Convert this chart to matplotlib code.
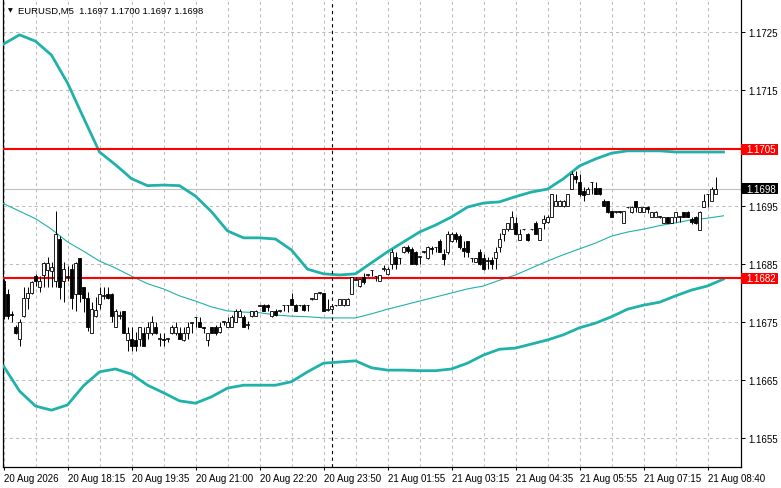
import matplotlib
matplotlib.use("Agg")
import matplotlib.pyplot as plt
from matplotlib.patches import Rectangle
from matplotlib.transforms import blended_transform_factory

# EURUSD M5 bars (oldest first)
opens = [
    1.16821, 1.16798, 1.16763, 1.16741, 1.16721, 1.16760, 1.16791, 1.16800, 1.16829, 1.16810,
    1.16831, 1.16839, 1.16838, 1.16821, 1.16893, 1.16821, 1.16828, 1.16841, 1.16798, 1.16860,
    1.16810, 1.16791, 1.16731, 1.16760, 1.16781, 1.16795, 1.16798, 1.16798, 1.16741, 1.16760,
    1.16769, 1.16719, 1.16721, 1.16719, 1.16721, 1.16731, 1.16731, 1.16731, 1.16741, 1.16721,
    1.16721, 1.16721, 1.16731, 1.16731, 1.16731, 1.16719, 1.16731, 1.16748, 1.16758, 1.16750,
    1.16741, 1.16719, 1.16741, 1.16741, 1.16733, 1.16750, 1.16741, 1.16741, 1.16750, 1.16758,
    1.16758, 1.16745, 1.16760, 1.16760, 1.16778, 1.16779, 1.16779, 1.16760, 1.16769, 1.16769,
    1.16779, 1.16780, 1.16790, 1.16779, 1.16779, 1.16779, 1.16779, 1.16790, 1.16790, 1.16800,
    1.16800, 1.16770, 1.16772, 1.16779, 1.16779, 1.16779, 1.16780, 1.16798, 1.16822, 1.16812,
    1.16827, 1.16831, 1.16839, 1.16829, 1.16821, 1.16841, 1.16833, 1.16850, 1.16862, 1.16860,
    1.16871, 1.16879, 1.16876, 1.16871, 1.16862, 1.16871, 1.16860, 1.16878, 1.16879, 1.16890,
    1.16867, 1.16871, 1.16890, 1.16901, 1.16898, 1.16878, 1.16890, 1.16860, 1.16853, 1.16871,
    1.16860, 1.16855, 1.16857, 1.16860, 1.16879, 1.16901, 1.16910, 1.16910, 1.16921, 1.16891,
    1.16910, 1.16901, 1.16911, 1.16921, 1.16891, 1.16921, 1.16922, 1.16931, 1.16950, 1.16950,
    1.16950, 1.16950, 1.16979, 1.17002, 1.16991, 1.16976, 1.16971, 1.16991, 1.16981, 1.16981,
    1.16958, 1.16958, 1.16941, 1.16940, 1.16941, 1.16921, 1.16948, 1.16940, 1.16958, 1.16940,
    1.16940, 1.16948, 1.16931, 1.16931, 1.16931, 1.16921, 1.16931, 1.16921, 1.16931, 1.16931,
    1.16940, 1.16940, 1.16928, 1.16931, 1.16909, 1.16948, 1.16971, 1.16958, 1.16970,
]
highs = [
    1.16824, 1.16807, 1.16769, 1.16745, 1.16755, 1.16810, 1.16810, 1.16821, 1.16833, 1.16829,
    1.16853, 1.16862, 1.16853, 1.16941, 1.16898, 1.16853, 1.16846, 1.16850, 1.16853, 1.16860,
    1.16810, 1.16802, 1.16785, 1.16793, 1.16810, 1.16810, 1.16810, 1.16800, 1.16772, 1.16769,
    1.16769, 1.16741, 1.16741, 1.16733, 1.16741, 1.16741, 1.16750, 1.16760, 1.16750, 1.16731,
    1.16731, 1.16722, 1.16745, 1.16750, 1.16741, 1.16741, 1.16750, 1.16750, 1.16759, 1.16758,
    1.16742, 1.16731, 1.16741, 1.16745, 1.16750, 1.16751, 1.16758, 1.16762, 1.16772, 1.16772,
    1.16762, 1.16752, 1.16769, 1.16770, 1.16779, 1.16781, 1.16781, 1.16769, 1.16772, 1.16770,
    1.16780, 1.16780, 1.16800, 1.16781, 1.16780, 1.16781, 1.16780, 1.16791, 1.16800, 1.16801,
    1.16800, 1.16790, 1.16781, 1.16780, 1.16790, 1.16790, 1.16791, 1.16828, 1.16827, 1.16824,
    1.16834, 1.16833, 1.16840, 1.16830, 1.16831, 1.16848, 1.16845, 1.16876, 1.16871, 1.16861,
    1.16881, 1.16883, 1.16879, 1.16872, 1.16863, 1.16872, 1.16881, 1.16881, 1.16880, 1.16893,
    1.16876, 1.16907, 1.16905, 1.16905, 1.16901, 1.16890, 1.16890, 1.16861, 1.16860, 1.16876,
    1.16867, 1.16862, 1.16862, 1.16879, 1.16903, 1.16910, 1.16921, 1.16941, 1.16931, 1.16910,
    1.16911, 1.16903, 1.16911, 1.16924, 1.16912, 1.16934, 1.16934, 1.16971, 1.16971, 1.16960,
    1.16960, 1.16971, 1.17010, 1.17010, 1.17005, 1.16983, 1.16983, 1.16992, 1.16991, 1.16981,
    1.16962, 1.16958, 1.16941, 1.16941, 1.16941, 1.16941, 1.16949, 1.16950, 1.16958, 1.16948,
    1.16949, 1.16950, 1.16940, 1.16941, 1.16932, 1.16931, 1.16931, 1.16931, 1.16940, 1.16932,
    1.16940, 1.16941, 1.16931, 1.16933, 1.16941, 1.16971, 1.16971, 1.16983, 1.17000,
]
lows = [
    1.16755, 1.16755, 1.16750, 1.16729, 1.16709, 1.16758, 1.16772, 1.16798, 1.16812, 1.16802,
    1.16810, 1.16810, 1.16810, 1.16810, 1.16790, 1.16785, 1.16821, 1.16772, 1.16769, 1.16785,
    1.16767, 1.16735, 1.16731, 1.16758, 1.16772, 1.16790, 1.16790, 1.16750, 1.16741, 1.16755,
    1.16731, 1.16700, 1.16700, 1.16700, 1.16709, 1.16709, 1.16721, 1.16728, 1.16729, 1.16709,
    1.16709, 1.16716, 1.16729, 1.16728, 1.16721, 1.16717, 1.16721, 1.16731, 1.16741, 1.16741,
    1.16731, 1.16709, 1.16731, 1.16728, 1.16731, 1.16745, 1.16741, 1.16741, 1.16750, 1.16758,
    1.16741, 1.16738, 1.16758, 1.16760, 1.16777, 1.16769, 1.16769, 1.16758, 1.16760, 1.16767,
    1.16769, 1.16767, 1.16779, 1.16769, 1.16778, 1.16769, 1.16769, 1.16788, 1.16790, 1.16798,
    1.16769, 1.16769, 1.16769, 1.16778, 1.16779, 1.16778, 1.16779, 1.16798, 1.16822, 1.16810,
    1.16815, 1.16829, 1.16829, 1.16821, 1.16821, 1.16838, 1.16831, 1.16841, 1.16841, 1.16850,
    1.16869, 1.16869, 1.16850, 1.16848, 1.16850, 1.16869, 1.16859, 1.16867, 1.16871, 1.16871,
    1.16848, 1.16867, 1.16888, 1.16888, 1.16876, 1.16862, 1.16862, 1.16853, 1.16853, 1.16848,
    1.16839, 1.16841, 1.16841, 1.16841, 1.16871, 1.16890, 1.16907, 1.16910, 1.16901, 1.16891,
    1.16908, 1.16890, 1.16908, 1.16901, 1.16891, 1.16910, 1.16921, 1.16931, 1.16950, 1.16950,
    1.16949, 1.16950, 1.16979, 1.16990, 1.16967, 1.16958, 1.16971, 1.16971, 1.16971, 1.16969,
    1.16950, 1.16938, 1.16931, 1.16938, 1.16938, 1.16921, 1.16947, 1.16938, 1.16940, 1.16940,
    1.16940, 1.16938, 1.16931, 1.16931, 1.16929, 1.16921, 1.16921, 1.16921, 1.16922, 1.16922,
    1.16931, 1.16931, 1.16919, 1.16919, 1.16909, 1.16948, 1.16948, 1.16958, 1.16970,
]
closes = [
    1.16760, 1.16760, 1.16762, 1.16731, 1.16750, 1.16791, 1.16800, 1.16819, 1.16821, 1.16821,
    1.16852, 1.16852, 1.16845, 1.16901, 1.16810, 1.16841, 1.16829, 1.16791, 1.16852, 1.16798,
    1.16791, 1.16741, 1.16772, 1.16770, 1.16798, 1.16797, 1.16791, 1.16760, 1.16769, 1.16762,
    1.16731, 1.16731, 1.16709, 1.16709, 1.16741, 1.16709, 1.16741, 1.16750, 1.16731, 1.16722,
    1.16719, 1.16722, 1.16741, 1.16741, 1.16721, 1.16731, 1.16741, 1.16750, 1.16759, 1.16741,
    1.16740, 1.16731, 1.16731, 1.16731, 1.16741, 1.16751, 1.16750, 1.16758, 1.16769, 1.16769,
    1.16741, 1.16746, 1.16769, 1.16769, 1.16779, 1.16769, 1.16776, 1.16769, 1.16762, 1.16770,
    1.16780, 1.16779, 1.16779, 1.16769, 1.16780, 1.16770, 1.16780, 1.16791, 1.16800, 1.16801,
    1.16769, 1.16772, 1.16778, 1.16780, 1.16790, 1.16790, 1.16790, 1.16828, 1.16824, 1.16824,
    1.16819, 1.16832, 1.16840, 1.16830, 1.16831, 1.16843, 1.16841, 1.16871, 1.16850, 1.16861,
    1.16879, 1.16872, 1.16850, 1.16850, 1.16863, 1.16872, 1.16879, 1.16876, 1.16880, 1.16871,
    1.16859, 1.16901, 1.16901, 1.16893, 1.16879, 1.16872, 1.16871, 1.16861, 1.16860, 1.16850,
    1.16841, 1.16857, 1.16850, 1.16871, 1.16893, 1.16910, 1.16921, 1.16931, 1.16901, 1.16901,
    1.16911, 1.16891, 1.16910, 1.16901, 1.16912, 1.16928, 1.16931, 1.16971, 1.16958, 1.16958,
    1.16958, 1.16971, 1.17005, 1.16997, 1.16971, 1.16969, 1.16979, 1.16992, 1.16971, 1.16971,
    1.16950, 1.16940, 1.16931, 1.16941, 1.16940, 1.16941, 1.16949, 1.16948, 1.16948, 1.16948,
    1.16948, 1.16945, 1.16940, 1.16940, 1.16932, 1.16931, 1.16921, 1.16931, 1.16940, 1.16932,
    1.16931, 1.16931, 1.16922, 1.16921, 1.16940, 1.16958, 1.16970, 1.16979, 1.16980,
]

# Bollinger bands, sampled every 4 bars
band_bars = list(range(0, 181, 4))
bb_upper = [
    1.17229, 1.17245, 1.17234, 1.17210, 1.17162, 1.17102, 1.17043, 1.17021, 1.16997, 1.16985,
    1.16986, 1.16985, 1.16967, 1.16940, 1.16907, 1.16895, 1.16895, 1.16893, 1.16874, 1.16841,
    1.16833, 1.16831, 1.16833, 1.16852, 1.16871, 1.16888, 1.16905, 1.16917, 1.16931, 1.16948,
    1.16955, 1.16957, 1.16966, 1.16974, 1.16979, 1.16997, 1.17019, 1.17031, 1.17041, 1.17045,
    1.17045, 1.17045, 1.17043, 1.17043, 1.17043, 1.17043,
]
bb_middle = [
    1.16954, 1.16941, 1.16928, 1.16910, 1.16888, 1.16872, 1.16855, 1.16843, 1.16829, 1.16816,
    1.16807, 1.16795, 1.16786, 1.16776, 1.16769, 1.16767, 1.16766, 1.16762, 1.16760, 1.16759,
    1.16757, 1.16757, 1.16757, 1.16764, 1.16772, 1.16779, 1.16786, 1.16793, 1.16800, 1.16807,
    1.16812, 1.16822, 1.16831, 1.16843, 1.16855, 1.16866, 1.16876, 1.16886, 1.16898, 1.16905,
    1.16910, 1.16916, 1.16921, 1.16926, 1.16929, 1.16933,
]
bb_lower = [
    1.16674, 1.16631, 1.16605, 1.16598, 1.16607, 1.16640, 1.16664, 1.16669, 1.16660, 1.16641,
    1.16628, 1.16614, 1.16610, 1.16621, 1.16636, 1.16641, 1.16641, 1.16641, 1.16647, 1.16664,
    1.16679, 1.16681, 1.16683, 1.16671, 1.16667, 1.16667, 1.16666, 1.16666, 1.16669, 1.16679,
    1.16693, 1.16703, 1.16705, 1.16712, 1.16719, 1.16728, 1.16740, 1.16748, 1.16759, 1.16772,
    1.16779, 1.16784, 1.16795, 1.16805, 1.16812, 1.16824,
]

level_high = 1.17048
level_low = 1.16825
bid = 1.16980
separator_bar = 82

price_ticks = [1.1655, 1.1665, 1.1675, 1.1685, 1.1695, 1.1705, 1.1715, 1.1725]
time_ticks = list(range(0, 177, 16))
time_labels = [
    "20 Aug 2026", "20 Aug 18:15", "20 Aug 19:35", "20 Aug 21:00",
    "20 Aug 22:20", "20 Aug 23:50", "21 Aug 01:55", "21 Aug 03:15",
    "21 Aug 04:35", "21 Aug 05:55", "21 Aug 07:15", "21 Aug 08:40",
]

plt.rcParams["font.family"] = ["Liberation Sans", "DejaVu Sans"]
FS = 7.0
BAND = "#20B2AA"
GRID = "#BDBDBD"

W, H = 781, 489
fig = plt.figure(figsize=(W / 100, H / 100), dpi=100)
ax = fig.add_axes([3 / W, 21 / H, 738 / W, 467 / H])
ax.set_xlim(-0.125, 184.375)
ax.set_ylim(1.16500, 1.17305)

# grid
ax.set_xticks(time_ticks)
ax.set_xticklabels(time_labels)
ax.set_xticks(range(8, 184, 8), minor=True)
ax.set_yticks(price_ticks)
# the 1.1705 tick label sits under the red level box, which carries the same text
ax.set_yticklabels(["" if abs(p - level_high) < 0.0002 else f"{p:.4f}" for p in price_ticks])
ax.grid(True, which="both", axis="x", color=GRID, linestyle=(0, (3, 3)), linewidth=0.75)
ax.grid(True, which="major", axis="y", color=GRID, linestyle=(0, (3, 3)), linewidth=0.75)
ax.set_axisbelow(True)

ax.yaxis.tick_right()
ax.tick_params(axis="y", direction="out", length=3, width=0.7, pad=2.5, labelsize=FS)
ax.tick_params(axis="x", which="major", direction="out", length=2.5, width=0.7, pad=2, labelsize=FS)
ax.tick_params(axis="x", which="minor", length=0)
for lab in ax.get_xticklabels():
    lab.set_ha("left")
ax.spines["top"].set_visible(False)
for s in ("left", "right", "bottom"):
    ax.spines[s].set_linewidth(0.9)

# bid and level lines
ax.axhline(bid, color="#C0C0C0", linewidth=0.8, zorder=1)
ax.axhline(level_high, color="#FF0000", linewidth=1.5, zorder=4)
ax.axhline(level_low, color="#FF0000", linewidth=1.5, zorder=4)

# bands
ax.plot(band_bars, bb_upper, color=BAND, linewidth=2.0, zorder=3)
ax.plot(band_bars, bb_lower, color=BAND, linewidth=2.0, zorder=3)
ax.plot(band_bars, bb_middle, color=BAND, linewidth=0.8, zorder=3)

# candles
xs = list(range(len(opens)))
ax.vlines(xs, lows, highs, color="black", linewidth=0.7, zorder=5)
for x, o, c in zip(xs, opens, closes):
    up = c >= o
    ax.add_patch(Rectangle((x - 0.35, min(o, c)), 0.7, abs(c - o),
                           facecolor="white" if up else "black",
                           edgecolor="black", linewidth=0.6, zorder=6))

# period separator
ax.axvline(separator_bar, color="black", linestyle=(0, (3, 3)), linewidth=0.8, zorder=7)

# price labels on the right scale
tr = blended_transform_factory(ax.transAxes, ax.transData)
box_w = 37 / 738
box_h = 11 * (1.17305 - 1.16500) / 467
for price, text, col in [(level_high, "1.1705", "#FF0000"),
                         (bid, "1.1698", "black"),
                         (level_low, "1.1682", "#FF0000")]:
    ax.add_patch(Rectangle((1.0, price - box_h / 2), box_w, box_h, transform=tr,
                           facecolor=col, edgecolor="none", clip_on=False, zorder=8))
    ax.text(1.0 + 5 / 738, price, text, transform=tr, color="white", fontsize=FS,
            ha="left", va="center", clip_on=False, zorder=9)

# header
fig.text(10 / W, 1 - 11 / H, "\u25BC", fontsize=4.5, family="DejaVu Sans",
         ha="center", va="center")
fig.text(18 / W, 1 - 11 / H,
         f"EURUSD,M5  {opens[-1]:.4f} {highs[-1]:.4f} {lows[-1]:.4f} {closes[-1]:.4f}",
         fontsize=6.8, ha="left", va="center")

fig.savefig("out.png", dpi=100, facecolor="white")
